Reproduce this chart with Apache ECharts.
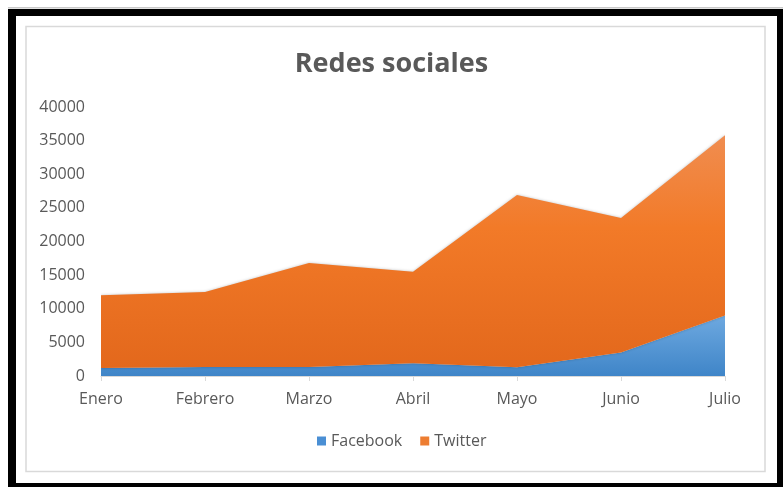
<!DOCTYPE html>
<html>
<head>
<meta charset="utf-8">
<script src="https://cdn.jsdelivr.net/npm/echarts@6/dist/echarts.min.js"></script>
<style>
html,body{margin:0;padding:0;background:#fff;}
#c{width:783px;height:487px;}
</style>
</head>
<body>
<div id="c"></div>
<script>
const categories = ['Enero','Febrero','Marzo','Abril','Mayo','Junio','Julio'];
const facebook = [1200, 1350, 1350, 1900, 1300, 3500, 9000];
const twitter = [10800, 11150, 15450, 13600, 25600, 20000, 26800];
const yTicks = [0, 5000, 10000, 15000, 20000, 25000, 30000, 35000, 40000];

const chart = echarts.init(document.getElementById('c'), null, {renderer:'canvas'});
const font = '"Open Sans", "Noto Sans", sans-serif';
chart.setOption({
  backgroundColor: '#fff',
  animation: false,
  title: {
    text: 'Redes sociales',
    left: 'center',
    top: 46,
    textStyle: {fontFamily: font, fontSize: 27, fontWeight: 'bold', color: '#595959'}
  },
  legend: {
    bottom: 33,
    left: 312,
    icon: 'rect',
    itemWidth: 9,
    itemHeight: 9,
    itemGap: 18,
    textStyle: {fontFamily: font, fontSize: 16, color: '#595959'},
    data: ['Facebook','Twitter']
  },
  grid: {left: 101, right: 58, top: 107, bottom: 111},
  xAxis: {
    type: 'category',
    boundaryGap: false,
    data: categories,
    axisLine: {lineStyle: {color: '#d9d9d9'}},
    axisTick: {show: true, length: 5, lineStyle: {color: '#d9d9d9'}},
    axisLabel: {fontFamily: font, fontSize: 16, color: '#595959', margin: 15}
  },
  yAxis: {
    type: 'value',
    min: yTicks[0],
    max: yTicks[yTicks.length-1],
    interval: 5000,
    axisLine: {show: false},
    axisTick: {show: false},
    splitLine: {show: false},
    axisLabel: {fontFamily: font, fontSize: 16, color: '#595959', margin: 16, formatter: v => String(v)}
  },
  series: [
    {
      name: 'Facebook', type: 'line', stack: 'total', data: facebook,
      symbol: 'none', lineStyle: {width: 0},
      itemStyle: {color: '#4a8fd4'},
      areaStyle: {opacity: 1, color: new echarts.graphic.LinearGradient(0,0,0,1,[
        {offset:0, color:'#6ea9e0'},{offset:1, color:'#3f85c8'}])}
    },
    {
      name: 'Twitter', type: 'line', stack: 'total', data: twitter,
      symbol: 'none', lineStyle: {width: 0},
      itemStyle: {color: '#ed7d31'},
      areaStyle: {opacity: 1, shadowColor: 'rgba(0,0,0,0.25)', shadowBlur: 3,
        color: new echarts.graphic.LinearGradient(0,0,0,1,[
        {offset:0, color:'#f08d50'},{offset:0.4, color:'#f27a28'},{offset:1, color:'#e3681c'}])}
    }
  ],
  graphic: [
    {type:'rect', silent:true, z:-1, shape:{x:26, y:26.5, width:739, height:445}, style:{fill:'none', stroke:'#d9d9d9', lineWidth:1.5}},
    {type:'rect', silent:true, shape:{x:8, y:7, width:775, height:1.5}, style:{fill:'#c8c8c8'}},
    {type:'rect', silent:true, shape:{x:8, y:9, width:775, height:7}, style:{fill:'#000'}},
    {type:'rect', silent:true, shape:{x:8, y:9, width:8, height:478}, style:{fill:'#000'}},
    {type:'rect', silent:true, shape:{x:777, y:9, width:6, height:478}, style:{fill:'#000'}},
    {type:'rect', silent:true, shape:{x:8, y:483, width:775, height:4}, style:{fill:'#000'}}
  ]
});
</script>
</body>
</html>
